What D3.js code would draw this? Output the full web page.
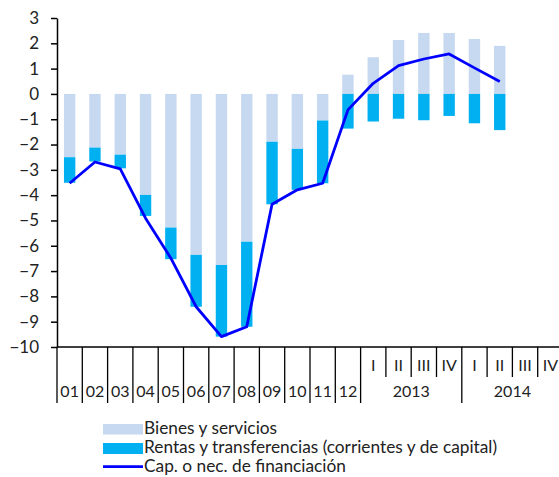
<!DOCTYPE html>
<html>
<head>
<meta charset="utf-8">
<script src="https://cdn.jsdelivr.net/npm/d3@7"></script>
<style>
  body { margin: 0; background: #fff; }
  svg text { font-family: Lato, "Open Sans", sans-serif; fill: #222; }
</style>
</head>
<body>
<div id="chart"></div>
<script>
var categories = ["01","02","03","04","05","06","07","08","09","10","11","12","I","II","III","IV","I","II","III","IV"];
var years = ["2013", "2014"];
var bienes = [-2.50,-2.12,-2.40,-3.99,-5.28,-6.36,-6.76,-5.84,-1.89,-2.17,-1.05,0.76,1.45,2.13,2.41,2.41,2.17,1.90,null,null];
var rentas = [-1.01,-0.55,-0.54,-0.83,-1.25,-2.05,-2.83,-3.36,-2.47,-1.62,-2.48,-1.37,-1.09,-0.98,-1.04,-0.87,-1.16,-1.43,null,null];
var capNec = [-3.53,-2.69,-2.96,-4.91,-6.49,-8.41,-9.59,-9.20,-4.36,-3.79,-3.53,-0.63,0.42,1.12,1.38,1.58,1.03,0.49,null,null];
var yTicks = [3,2,1,0,-1,-2,-3,-4,-5,-6,-7,-8,-9,-10];
var legendLabels = ["Bienes y servicios","Rentas y transferencias (corrientes y de capital)","Cap. o nec. de financiación"];

var colBienes = "#c6d9f1", colRentas = "#00b0f0", colLine = "#0000ff";

var width = 559, height = 477;
var svg = d3.select("#chart").append("svg")
  .attr("width", width).attr("height", height);

var x = d3.scaleBand().domain(d3.range(categories.length)).range([57, 563]);
var y = d3.scaleLinear().domain([-10, 3]).range([347, 18]);
var bw = x.bandwidth() * 0.45;

// bars
var g = svg.append("g");
categories.forEach(function(c, i) {
  if (bienes[i] == null) return;
  var bx = x(i) + (x.bandwidth() - bw) / 2;
  g.append("rect")
    .attr("x", bx).attr("width", bw)
    .attr("y", y(Math.max(0, bienes[i]))).attr("height", Math.abs(y(bienes[i]) - y(0)))
    .attr("fill", colBienes);
  var base = bienes[i] < 0 ? bienes[i] : 0;
  g.append("rect")
    .attr("x", bx).attr("width", bw)
    .attr("y", y(base)).attr("height", y(base + rentas[i]) - y(base))
    .attr("fill", colRentas);
});

// line
var line = d3.line()
  .defined(function(d) { return d != null; })
  .x(function(d, i) { return x(i) + x.bandwidth() / 2; })
  .y(function(d) { return y(d); });
svg.append("path").datum(capNec)
  .attr("d", line)
  .attr("fill", "none").attr("stroke", colLine).attr("stroke-width", 2.8)
  .attr("stroke-linejoin", "round");

// y axis
var yAxis = svg.append("g").attr("transform", "translate(57,0)")
  .call(d3.axisLeft(y).tickValues(yTicks).tickSize(6).tickSizeOuter(0).tickPadding(12));
yAxis.selectAll("text").style("font-size", "17px").attr("fill", "#222");
yAxis.selectAll("line, path").attr("stroke", "#000").attr("stroke-width", 1.5);

// x axis line
svg.append("line").attr("x1", 57).attr("x2", 563).attr("y1", y(-10)).attr("y2", y(-10))
  .attr("stroke", "#000").attr("stroke-width", 1.5);

// category separators
d3.range(categories.length + 1).forEach(function(i) {
  var xx = i < categories.length ? x(i) : x(i - 1) + x.bandwidth();
  var long = i <= 12 || i == 16;
  svg.append("line").attr("x1", xx).attr("x2", xx)
    .attr("y1", y(-10)).attr("y2", long ? 403 : 377)
    .attr("stroke", "#000").attr("stroke-width", 1.3);
});

// category labels
categories.forEach(function(c, i) {
  svg.append("text")
    .attr("x", x(i) + x.bandwidth() / 2)
    .attr("y", i < 12 ? 397 : 371)
    .attr("text-anchor", "middle")
    .style("font-size", "16px")
    .text(c);
});
years.forEach(function(yr, k) {
  var x0 = x(12 + k * 4), x1 = x(12 + k * 4 + 3) + x.bandwidth();
  svg.append("text")
    .attr("x", (x0 + x1) / 2).attr("y", 397)
    .attr("text-anchor", "middle")
    .style("font-size", "16px")
    .text(yr);
});

// legend
var lg = svg.append("g");
lg.append("rect").attr("x", 103).attr("y", 424).attr("width", 40).attr("height", 10.5).attr("fill", colBienes);
lg.append("rect").attr("x", 103).attr("y", 443).attr("width", 40).attr("height", 11).attr("fill", colRentas);
lg.append("line").attr("x1", 103).attr("x2", 143).attr("y1", 466.7).attr("y2", 466.7)
  .attr("stroke", colLine).attr("stroke-width", 2.8);
legendLabels.forEach(function(t, k) {
  lg.append("text").attr("x", 144).attr("y", 434 + k * 19.2)
    .style("font-size", "17.3px").text(t);
});
</script>
</body>
</html>
